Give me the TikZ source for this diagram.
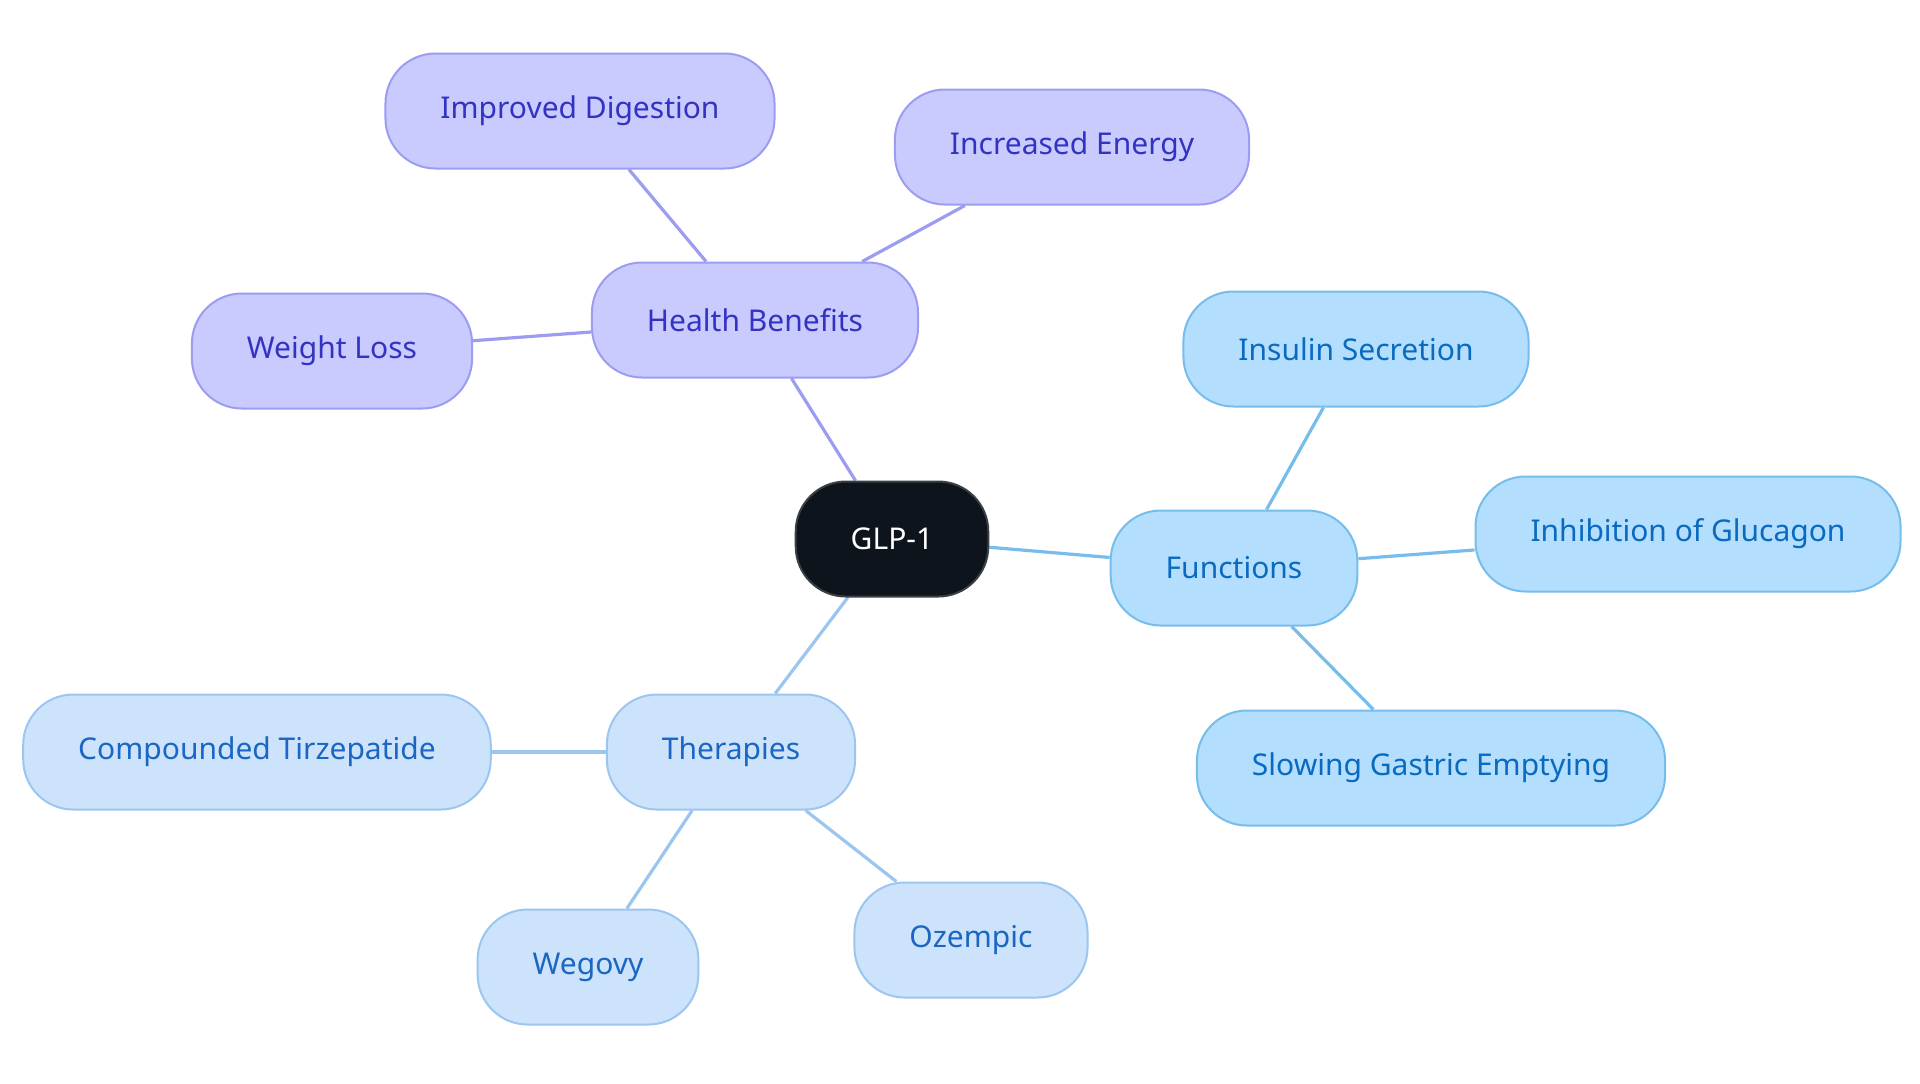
\documentclass[tikz,border=0pt]{standalone}
\usepackage{fontspec}
\setmainfont{Noto Sans}
\usetikzlibrary{backgrounds}
\definecolor{rootfill}{HTML}{0D141C}
\definecolor{rootline}{HTML}{3A3F45}
\definecolor{hbfill}{HTML}{C9CAFE}
\definecolor{hbline}{HTML}{9C9CF0}
\definecolor{hbtext}{HTML}{3333C2}
\definecolor{fnfill}{HTML}{B3DEFD}
\definecolor{fnline}{HTML}{77BDEB}
\definecolor{fntext}{HTML}{0A6AC0}
\definecolor{thfill}{HTML}{CDE3FC}
\definecolor{thline}{HTML}{9CC5F0}
\definecolor{thtext}{HTML}{1A66C2}

\begin{document}
\begin{tikzpicture}[x=0.5pt,y=-0.5pt,
    topic/.style={draw, line width=1pt, rounded corners=25pt, inner xsep=27.5pt,
                  minimum height=57.5pt, font=\fontsize{15}{17}\selectfont},
    root/.style={topic, fill=rootfill, draw=rootline, text=white},
    benefit/.style={topic, fill=hbfill, draw=hbline, text=hbtext},
    function/.style={topic, fill=fnfill, draw=fnline, text=fntext},
    therapy/.style={topic, fill=thfill, draw=thline, text=thtext},
    benefitlink/.style={draw=hbline, line width=1.6pt},
    functionlink/.style={draw=fnline, line width=1.6pt},
    therapylink/.style={draw=thline, line width=1.6pt}]
\useasboundingbox (0,0) rectangle (1920,1083);

\node[root] (glp) at (892,539) {GLP-1};

\node[benefit] (health) at (755,320) {Health Benefits};
\node[benefit] (digestion) at (580,111) {Improved Digestion};
\node[benefit] (energy) at (1072,147) {Increased Energy};
\node[benefit] (weight) at (332,351) {Weight Loss};

\node[function] (functions) at (1234,568) {Functions};
\node[function] (insulin) at (1356,349) {Insulin Secretion};
\node[function] (glucagon) at (1688,534) {Inhibition of Glucagon};
\node[function] (gastric) at (1431,768) {Slowing Gastric Emptying};

\node[therapy] (therapies) at (731,752) {Therapies};
\node[therapy] (tirzepatide) at (257,752) {Compounded Tirzepatide};
\node[therapy] (wegovy) at (588,967) {Wegovy};
\node[therapy] (ozempic) at (971,940) {Ozempic};

\begin{pgfonlayer}{background}
\draw[benefitlink] (glp) -- (health);
\foreach \leaf in {digestion, energy, weight}
    \draw[benefitlink] (health) -- (\leaf);
\draw[functionlink] (glp) -- (functions);
\foreach \leaf in {insulin, glucagon, gastric}
    \draw[functionlink] (functions) -- (\leaf);
\draw[therapylink] (glp) -- (therapies);
\foreach \leaf in {tirzepatide, wegovy, ozempic}
    \draw[therapylink] (therapies) -- (\leaf);
\end{pgfonlayer}
\end{tikzpicture}
\end{document}
